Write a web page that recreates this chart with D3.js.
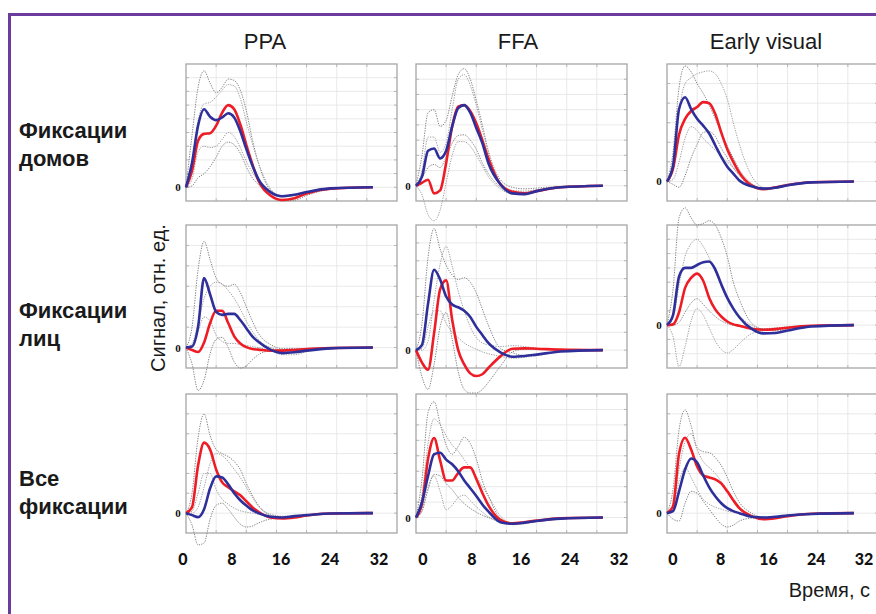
<!DOCTYPE html>
<html>
<head>
<meta charset="utf-8">
<script src="https://cdnjs.cloudflare.com/ajax/libs/d3/7.8.5/d3.min.js"></script>
<style>
  body { margin: 0; background: #fff; }
  svg { display: block; font-family: "Liberation Sans", Arial, sans-serif; }
</style>
</head>
<body>
<svg id="chart" width="876" height="614"></svg>
<script>
/**
 *  Hemodynamic responses per fixation type and region (3 x 3 panels)
 */

// time samples (s), shared by every curve
var T = [0, 1, 2, 3, 4, 5, 6, 7, 8, 9, 10, 11, 12, 14, 16, 18, 20, 24, 31];

var columns = ["PPA", "FFA", "Early visual"];
var rowLabels = [["Фиксации", "домов"], ["Фиксации", "лиц"], ["Все", "фиксации"]];
var timeTicks = [0, 8, 16, 24, 32];

// y-range of each panel in grid units, panels row by row
var yRanges = [[-1, 9], [-1, 8], [-1, 6],
               [-1, 6], [-1, 7], [-3, 7],
               [-1, 6], [-1, 8], [-1, 6]];

var blueSeries = [
  [0,1.8,4.5,5.7,5.15,4.9,5.1,5.4,5.1,4.1,2.8,1.6,0.6,-0.35,-0.65,-0.55,-0.35,-0.08,0],
  [0,0.6,2.3,2.45,1.8,2.3,3.9,5.1,5.3,4.8,3.8,2.8,1.5,0.1,-0.5,-0.55,-0.35,-0.1,0],
  [0,0.8,3.7,4.3,3.7,3.2,2.85,2.45,1.85,1.25,0.75,0.4,0.05,-0.25,-0.37,-0.32,-0.2,-0.05,0],
  [0,0.05,1.0,3.4,2.6,1.75,1.6,1.65,1.65,1.35,0.95,0.55,0.28,-0.1,-0.27,-0.23,-0.15,-0.04,0],
  [0,0.3,2.6,4.5,3.95,3.0,2.55,2.4,2.2,1.85,1.3,0.85,0.4,-0.12,-0.37,-0.33,-0.25,-0.08,0],
  [0,0.7,3.4,4.0,4.0,4.2,4.4,4.45,3.9,2.85,1.9,1.15,0.55,-0.25,-0.58,-0.55,-0.38,-0.1,0],
  [0,-0.1,-0.2,0.2,1.25,1.85,1.8,1.45,1.0,0.65,0.38,0.15,0,-0.18,-0.22,-0.15,-0.1,-0.02,0],
  [0,1.0,2.7,4.1,4.2,3.75,3.45,3.0,2.4,1.9,1.4,0.85,0.4,-0.3,-0.4,-0.33,-0.22,-0.07,0],
  [0,0.1,1.1,2.2,2.75,2.55,1.9,1.3,0.85,0.5,0.25,0.1,0,-0.18,-0.22,-0.18,-0.12,-0.04,0]
];

var redSeries = [
  [0,1.2,3.4,3.9,3.95,4.5,5.45,6.0,5.7,4.6,3.1,1.7,0.5,-0.6,-0.93,-0.8,-0.45,-0.1,0],
  [0,0.2,0.4,-0.5,-0.3,1.5,3.9,5.2,5.3,4.9,4.1,3.0,1.8,0.1,-0.4,-0.5,-0.35,-0.1,0],
  [0,0.65,2.4,3.2,3.6,3.8,4.05,4.0,3.45,2.5,1.65,1.0,0.45,-0.2,-0.4,-0.3,-0.18,-0.04,0],
  [0,-0.12,-0.22,0.25,1.2,1.8,1.8,1.2,0.55,0.2,0.02,-0.07,-0.1,-0.15,-0.15,-0.12,-0.07,-0.02,0],
  [0,-0.7,-1.1,0.95,3.4,3.9,1.7,0.0,-0.8,-1.3,-1.45,-1.35,-1.0,-0.35,0.08,0.1,0.08,0.03,0],
  [0,0.05,0.9,2.6,3.3,3.6,3.1,1.9,1.1,0.6,0.25,0.05,-0.05,-0.25,-0.32,-0.28,-0.18,-0.05,0],
  [0,0.3,2.4,3.55,3.2,2.2,1.55,1.3,1.1,0.9,0.6,0.3,0.07,-0.22,-0.27,-0.22,-0.12,-0.02,0],
  [0,0.9,3.8,5.15,3.7,2.4,2.4,2.9,3.25,3.25,2.5,1.6,0.8,-0.15,-0.38,-0.3,-0.2,-0.05,0],
  [0,0.35,3.0,3.8,3.2,2.35,1.9,1.8,1.7,1.5,1.1,0.65,0.25,-0.15,-0.3,-0.25,-0.15,-0.03,0]
];

// dotted gray confidence bounds
var boundA = [
  [0,3.8,7.3,8.5,7.6,6.9,7.3,7.9,7.8,7.1,5.6,3.5,1.8,-0.2,-0.6,-0.55,-0.35,-0.08,0],
  [0,2.0,4.8,5.0,3.9,4.3,5.9,7.3,7.7,7.0,5.6,4.0,2.3,0.4,-0.1,-0.2,-0.15,-0.05,0],
  [0,1.5,4.8,5.9,5.6,5.0,4.5,3.9,3.2,2.5,1.8,1.2,0.6,-0.1,-0.35,-0.35,-0.2,-0.05,0],
  [0,1.0,3.8,5.2,4.3,3.4,3.1,3.0,3.1,2.7,2.0,1.3,0.7,0.15,-0.05,-0.05,-0.05,0,0],
  [0,1.5,5.2,6.8,5.65,4.75,4.2,3.95,4.05,3.8,3.2,2.3,1.4,0.1,-0.15,-0.3,-0.25,-0.08,0],
  [0,2.5,7.5,8.2,7.5,7.0,7.1,7.3,7.0,6.1,4.8,3.0,1.8,0.15,-0.3,-0.4,-0.3,-0.08,0],
  [0,1.0,3.8,5.0,3.9,3.2,3.0,2.85,2.6,2.2,1.5,0.9,0.4,-0.1,-0.2,-0.15,-0.1,-0.02,0],
  [0,2.5,6.8,7.5,6.1,4.7,4.1,4.6,5.2,4.8,3.8,2.4,1.4,-0.05,-0.35,-0.3,-0.2,-0.05,0],
  [0,1.2,4.2,5.2,4.4,3.3,3.1,3.05,2.8,2.4,1.8,1.1,0.55,0.0,-0.2,-0.2,-0.12,-0.03,0]
];
var boundB = [
  [0,1.5,4.8,6.1,6.2,6.6,7.1,7.5,7.4,6.5,4.8,3.2,1.8,-0.1,-0.7,-0.6,-0.4,-0.1,0],
  [0,1.0,3.2,3.2,2.2,2.8,5.0,7.0,7.3,6.6,5.3,3.7,2.2,0.2,-0.3,-0.35,-0.25,-0.07,0],
  [0,1.0,3.6,5.0,5.3,5.5,5.6,5.65,5.5,5.0,4.2,3.0,1.9,0.3,-0.3,-0.35,-0.2,-0.05,0],
  [0,0.2,1.2,2.4,3.0,3.2,3.1,2.8,2.4,1.9,1.3,0.8,0.4,0,-0.1,-0.1,-0.05,0,0],
  [0,0.0,0.5,2.8,4.8,5.8,4.7,3.3,2.2,1.3,0.7,0.4,0.3,0.2,0.25,0.2,0.1,0.03,0],
  [0,0.5,2.8,4.8,5.7,6.0,5.5,4.7,3.7,2.8,1.9,1.2,0.65,0.0,-0.3,-0.3,-0.2,-0.05,0],
  [0,0.0,0.3,1.3,2.5,3.0,2.9,2.6,2.2,1.8,1.3,0.8,0.35,-0.05,-0.15,-0.12,-0.08,-0.02,0],
  [0,1.5,4.8,6.4,6.0,5.3,4.7,4.3,3.75,3.2,2.7,2.0,1.4,0.1,-0.35,-0.35,-0.25,-0.07,0],
  [0,0.3,2.2,3.6,4.0,3.2,2.6,2.3,2.0,1.6,1.1,0.6,0.25,-0.1,-0.25,-0.2,-0.13,-0.04,0]
];
var boundC = [
  [0,0.6,2.6,3.0,2.9,3.0,3.5,4.0,3.7,2.9,1.9,1.1,0.5,-0.3,-0.7,-0.6,-0.35,-0.08,0],
  [0,-0.6,-1.9,-2.3,-1.6,0.2,2.0,2.9,2.9,2.6,2.0,1.3,0.6,-0.2,-0.55,-0.6,-0.4,-0.1,0],
  [0,0.1,1.0,2.2,2.8,2.6,2.2,1.9,1.6,1.3,1.0,0.7,0.35,-0.15,-0.35,-0.3,-0.2,-0.05,0],
  [0,0.1,0.8,1.5,1.3,0.6,0.3,0.2,0.2,0.15,0.1,0.05,0,-0.15,-0.35,-0.35,-0.2,-0.05,0],
  [0,0.1,1.3,2.2,2.2,1.5,1.0,0.7,0.4,0.2,0.05,-0.1,-0.2,-0.35,-0.45,-0.4,-0.3,-0.08,0],
  [0,-0.8,-2.9,-1.5,0.3,1.15,0.7,-0.2,-1.1,-1.7,-1.95,-1.7,-1.3,-0.6,-0.4,-0.35,-0.25,-0.07,0],
  [0,0.1,1.0,2.0,2.0,1.2,0.7,0.45,0.25,0.12,0.05,0.0,-0.05,-0.15,-0.25,-0.22,-0.12,-0.02,0],
  [0,0.5,2.0,2.7,1.7,0.5,0.8,1.3,1.45,1.1,0.7,0.35,0.05,-0.2,-0.4,-0.35,-0.25,-0.07,0],
  [0,0.3,1.6,2.3,1.8,1.2,0.7,0.45,0.3,0.2,0.1,0.05,0.0,-0.15,-0.3,-0.25,-0.15,-0.03,0]
];
var boundD = [
  [0,0.1,0.7,1.0,1.5,2.2,3.0,3.3,3.1,2.5,1.5,0.7,0.2,-0.6,-1.0,-0.95,-0.6,-0.15,0],
  [0,0.5,1.2,1.4,1.2,1.9,2.8,3.3,3.35,3.0,2.4,1.5,0.8,-0.1,-0.5,-0.5,-0.35,-0.1,0],
  [0,-0.15,-0.3,0.3,1.2,1.9,2.5,2.55,2.3,1.7,1.2,0.7,0.3,-0.25,-0.4,-0.35,-0.2,-0.05,0],
  [0,-0.8,-2.1,-1.6,-0.3,0.4,0.5,0.0,-0.7,-1.0,-0.9,-0.6,-0.35,-0.15,-0.1,-0.08,-0.05,0,0],
  [0,-1.5,-2.2,-0.8,1.3,2.1,0.6,-1.2,-2.2,-2.4,-2.4,-2.2,-1.8,-0.9,-0.1,0.05,0.05,0.02,0],
  [0,0.0,0.2,0.9,1.55,1.85,1.45,1.0,0.6,0.3,0.1,0.0,-0.05,-0.2,-0.25,-0.2,-0.12,-0.03,0],
  [0,-0.6,-1.6,-1.5,-0.3,0.4,0.5,0.2,-0.2,-0.55,-0.7,-0.65,-0.5,-0.3,-0.25,-0.2,-0.1,-0.02,0],
  [0,0.4,1.8,2.8,2.7,2.2,1.8,1.3,0.9,0.6,0.35,0.15,0.0,-0.3,-0.45,-0.4,-0.25,-0.07,0],
  [0,-0.3,-0.4,0.5,1.1,1.0,0.6,0.2,-0.2,-0.55,-0.7,-0.6,-0.4,-0.25,-0.22,-0.18,-0.12,-0.03,0]
];

var svg = d3.select("#chart");

// layout
var colLeft = [186, 416, 667];
var panelW  = 211;
var rowTop  = [64, 225, 394];
var rowH    = [137, 143, 139];
var titleX  = [265, 518, 766];
var labelShift = [-3, 7, 6];
var labelSpan  = [196, 196, 191];

// purple frame (cut by the right and bottom edges)
svg.append("rect")
   .attr("x", 9.5).attr("y", 14.5)
   .attr("width", 900).attr("height", 640)
   .attr("fill", "none")
   .attr("stroke", "#6b3c9e")
   .attr("stroke-width", 3);

var gridLayer  = svg.append("g");
var curveLayer = svg.append("g");

columns.forEach(function(name, c) {
    svg.append("text")
       .attr("x", titleX[c])
       .attr("y", 49)
       .attr("text-anchor", "middle")
       .attr("font-size", 22)
       .attr("fill", "#1a1a1a")
       .text(name);
});

rowLabels.forEach(function(lines, r) {
    var base = [138, 318, 486][r];
    svg.append("text")
       .attr("font-size", 22)
       .attr("font-weight", "bold")
       .attr("fill", "#1a1a1a")
       .selectAll("tspan")
       .data(lines).enter().append("tspan")
       .attr("x", 19)
       .attr("y", function(d, i) { return base + i * 28; })
       .text(function(d) { return d; });
});

for (var r = 0; r < 3; r++) {
    for (var c = 0; c < 3; c++) {
        drawPanel(r, c, r * 3 + c);
    }
}

function drawPanel(r, c, k) {
    var x0 = colLeft[c], y0 = rowTop[r], h = rowH[r];
    var x = d3.scaleLinear().domain([0, 35]).range([x0, x0 + panelW]);
    var y = d3.scaleLinear().domain(yRanges[k]).range([y0 + h, y0]);
    var g = gridLayer.append("g");

    // grid
    g.selectAll(".vg").data(d3.range(5, 35, 5)).enter().append("line")
     .attr("x1", function(d) { return x(d); }).attr("x2", function(d) { return x(d); })
     .attr("y1", y0).attr("y2", y0 + h)
     .attr("stroke", "#e3e3e3").attr("stroke-width", 0.8);
    var yt = d3.range(yRanges[k][0] + 1, yRanges[k][1]);
    g.selectAll(".hg").data(yt).enter().append("line")
     .attr("x1", x0).attr("x2", x0 + panelW)
     .attr("y1", function(d) { return y(d); }).attr("y2", function(d) { return y(d); })
     .attr("stroke", "#e3e3e3").attr("stroke-width", 0.8);

    // inner tick marks
    d3.range(5, 35, 5).forEach(function(d) {
        [[y0, y0 + 3], [y0 + h, y0 + h - 3]].forEach(function(p) {
            g.append("line").attr("x1", x(d)).attr("x2", x(d)).attr("y1", p[0]).attr("y2", p[1])
             .attr("stroke", "#aaa").attr("stroke-width", 0.8);
        });
    });
    yt.forEach(function(d) {
        [[x0, x0 + 3], [x0 + panelW, x0 + panelW - 3]].forEach(function(p) {
            g.append("line").attr("y1", y(d)).attr("y2", y(d)).attr("x1", p[0]).attr("x2", p[1])
             .attr("stroke", "#aaa").attr("stroke-width", 0.8);
        });
    });

    g.append("rect")
     .attr("x", x0).attr("y", y0).attr("width", panelW).attr("height", h)
     .attr("fill", "none").attr("stroke", "#a6a6a6").attr("stroke-width", 1.3);

    // zero label
    g.append("text")
     .attr("x", x0 - 8).attr("y", y(0) + 4)
     .attr("text-anchor", "middle")
     .attr("font-family", "'Liberation Serif', 'DejaVu Serif', serif")
     .attr("font-weight", "bold")
     .attr("font-size", 11)
     .attr("fill", "#111")
     .text("0");

    var line = d3.line()
        .x(function(d, i) { return x(T[i]); })
        .y(function(d) { return y(d); })
        .curve(d3.curveMonotoneX);

    var cg = curveLayer.append("g");
    [[boundA, "#848484"], [boundB, "#a0a0a0"], [boundC, "#a0a0a0"], [boundD, "#848484"]].forEach(function(s) {
        cg.append("path")
          .attr("d", line(s[0][k]))
          .attr("fill", "none")
          .attr("stroke", s[1])
          .attr("stroke-width", 1)
          .attr("stroke-dasharray", "1.3,1.2");
    });
    cg.append("path").attr("d", line(redSeries[k]))
      .attr("fill", "none").attr("stroke", "#ee1c25").attr("stroke-width", 2.6);
    cg.append("path").attr("d", line(blueSeries[k]))
      .attr("fill", "none").attr("stroke", "#2e2f9a").attr("stroke-width", 2.6);

    // time labels under the bottom row
    if (r === 2) {
        var lx = d3.scaleLinear().domain([0, 32])
            .range([x0 + labelShift[c], x0 + labelShift[c] + labelSpan[c]]);
        svg.append("g").selectAll("text").data(timeTicks).enter().append("text")
           .attr("x", function(d) { return lx(d); })
           .attr("y", 565)
           .attr("text-anchor", "middle")
           .attr("font-family", "Lato, 'DejaVu Sans', sans-serif")
           .attr("font-weight", 900)
           .attr("font-size", 16)
           .attr("fill", "#111")
           .text(function(d) { return d; });
    }
}

// axis titles
svg.append("text")
   .attr("transform", "translate(165,298) rotate(-90)")
   .attr("text-anchor", "middle")
   .attr("font-size", 20)
   .attr("fill", "#1a1a1a")
   .text("Сигнал, отн. ед.");

svg.append("text")
   .attr("x", 870).attr("y", 597)
   .attr("text-anchor", "end")
   .attr("font-size", 20)
   .attr("fill", "#1a1a1a")
   .text("Время, с");
</script>
</body>
</html>
